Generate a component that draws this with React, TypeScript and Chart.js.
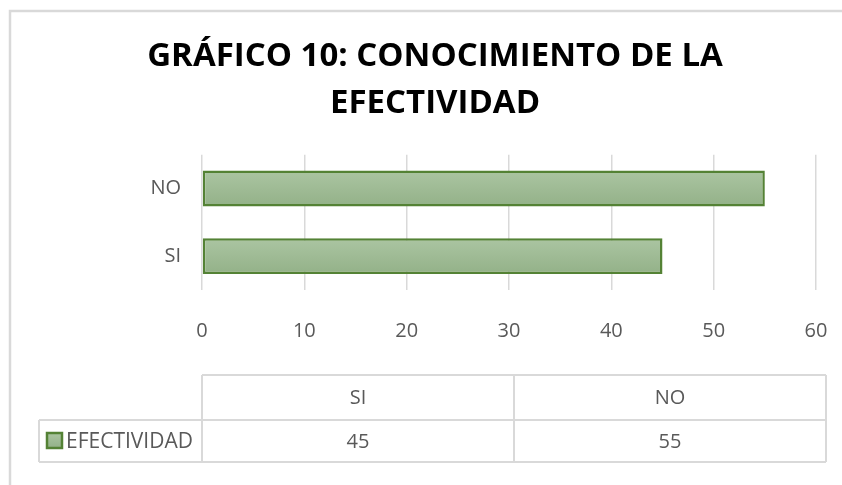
import React, { useEffect, useRef } from "react";
import { Chart, registerables } from "chart.js";

Chart.register(...registerables);

const titleLines = ["GRÁFICO 10: CONOCIMIENTO DE LA", "EFECTIVIDAD"];
const categories = ["SI", "NO"];
const seriesName = "EFECTIVIDAD";
const values = [45, 55];
const xMin = 0;
const xMax = 60;
const xStep = 10;

const FONT = "'Open Sans', 'Liberation Sans', sans-serif";
const GRAY = "#595959";
const LINE = "#d9d9d9";
const BAR_BORDER = "#548235";

const framePlugin = {
  id: "frame",
  beforeDraw(chart: any) {
    const ctx = chart.ctx;
    ctx.save();
    ctx.fillStyle = "#ffffff";
    ctx.fillRect(0, 0, chart.width, chart.height);
    ctx.strokeStyle = LINE;
    ctx.lineWidth = 2.5;
    ctx.beginPath();
    ctx.moveTo(10, chart.height);
    ctx.lineTo(10, 11);
    ctx.lineTo(chart.width, 11);
    ctx.stroke();
    ctx.restore();
  },
};

const tablePlugin = {
  id: "dataTable",
  afterDraw(chart: any) {
    const ctx = chart.ctx;
    const area = chart.chartArea;
    const x0 = 39;
    const x1 = area.left;
    const x3 = area.right + 10;
    const colW = (x3 - x1) / categories.length;
    const y0 = 375;
    const y1 = 420;
    const y2 = 462;
    ctx.save();
    ctx.strokeStyle = LINE;
    ctx.lineWidth = 2;
    ctx.beginPath();
    ctx.moveTo(x1, y0);
    ctx.lineTo(x3, y0);
    ctx.moveTo(x0, y1);
    ctx.lineTo(x3, y1);
    ctx.moveTo(x0, y2);
    ctx.lineTo(x3, y2);
    ctx.moveTo(x0, y1);
    ctx.lineTo(x0, y2);
    for (let i = 0; i <= categories.length; i++) {
      const x = x1 + colW * i;
      ctx.moveTo(x, y0);
      ctx.lineTo(x, y2);
    }
    ctx.stroke();

    ctx.fillStyle = GRAY;
    ctx.font = `20px ${FONT}`;
    ctx.textAlign = "center";
    ctx.textBaseline = "middle";
    categories.forEach((c, i) => {
      const cx = x1 + colW * (i + 0.5);
      ctx.fillText(c, cx, (y0 + y1) / 2 + 1);
      ctx.fillText(String(values[i]), cx, (y1 + y2) / 2 + 1);
    });

    // legend key
    const kx = 47;
    const ky = 433;
    const ks = 15;
    const g = ctx.createLinearGradient(0, ky, 0, ky + ks);
    g.addColorStop(0, "#abc5a2");
    g.addColorStop(1, "#93b188");
    ctx.fillStyle = g;
    ctx.fillRect(kx, ky, ks, ks);
    ctx.strokeStyle = BAR_BORDER;
    ctx.lineWidth = 2.5;
    ctx.strokeRect(kx, ky, ks, ks);
    ctx.fillStyle = GRAY;
    ctx.textAlign = "left";
    ctx.font = `21px ${FONT}`;
    ctx.fillText(seriesName, 66, (y1 + y2) / 2 + 1);
    ctx.restore();
  },
};

export default function App() {
  const ref = useRef<HTMLCanvasElement>(null);
  useEffect(() => {
    document.body.style.margin = "0";
    const canvas = ref.current!;
    const chart = new Chart(canvas, {
      type: "bar",
      data: {
        labels: categories,
        datasets: [
          {
            label: seriesName,
            data: values,
            backgroundColor: (context: any) => {
              const c = context.chart;
              const ys = c.scales && c.scales.y;
              if (!ys || context.dataIndex === undefined) return "#a0bd96";
              const cy = ys.getPixelForValue(context.dataIndex);
              if (!Number.isFinite(cy)) return "#a0bd96";
              const g = c.ctx.createLinearGradient(0, cy - 18, 0, cy + 18);
              g.addColorStop(0, "#abc5a2");
              g.addColorStop(1, "#93b188");
              return g;
            },
            borderColor: BAR_BORDER,
            borderWidth: 2.5,
            borderSkipped: false,
            categoryPercentage: 1,
            barPercentage: 0.53,
          },
        ],
      },
      options: {
        indexAxis: "y",
        animation: false,
        responsive: false,
        maintainAspectRatio: false,
        layout: { padding: { left: 54, right: 26, top: 0, bottom: 0 } },
        plugins: {
          legend: { display: false },
          tooltip: { enabled: false },
          title: {
            display: true,
            text: titleLines,
            color: "#000000",
            font: { family: FONT, size: 33, weight: "bold", lineHeight: 1.42 },
            padding: { top: 33, bottom: 28 },
          },
        },
        scales: {
          x: {
            min: xMin,
            max: xMax,
            ticks: {
              stepSize: xStep,
              color: GRAY,
              font: { family: FONT, size: 20 },
              padding: 29,
            },
            grid: { color: LINE, lineWidth: 1.5, drawTicks: false },
            border: { display: false },
            afterFit: (s: any) => {
              s.height = 195;
              s.paddingLeft = 0;
              s.paddingRight = 0;
            },
          },
          y: {
            reverse: true,
            ticks: {
              color: GRAY,
              font: { family: FONT, size: 20 },
              padding: 21,
            },
            grid: { display: false, drawTicks: false },
            border: { display: false },
            afterFit: (s: any) => {
              s.width = 148;
            },
          },
        },
      },
      plugins: [framePlugin, tablePlugin],
    });
    return () => chart.destroy();
  }, []);
  return <canvas ref={ref} width={842} height={485} style={{ display: "block" }} />;
}
